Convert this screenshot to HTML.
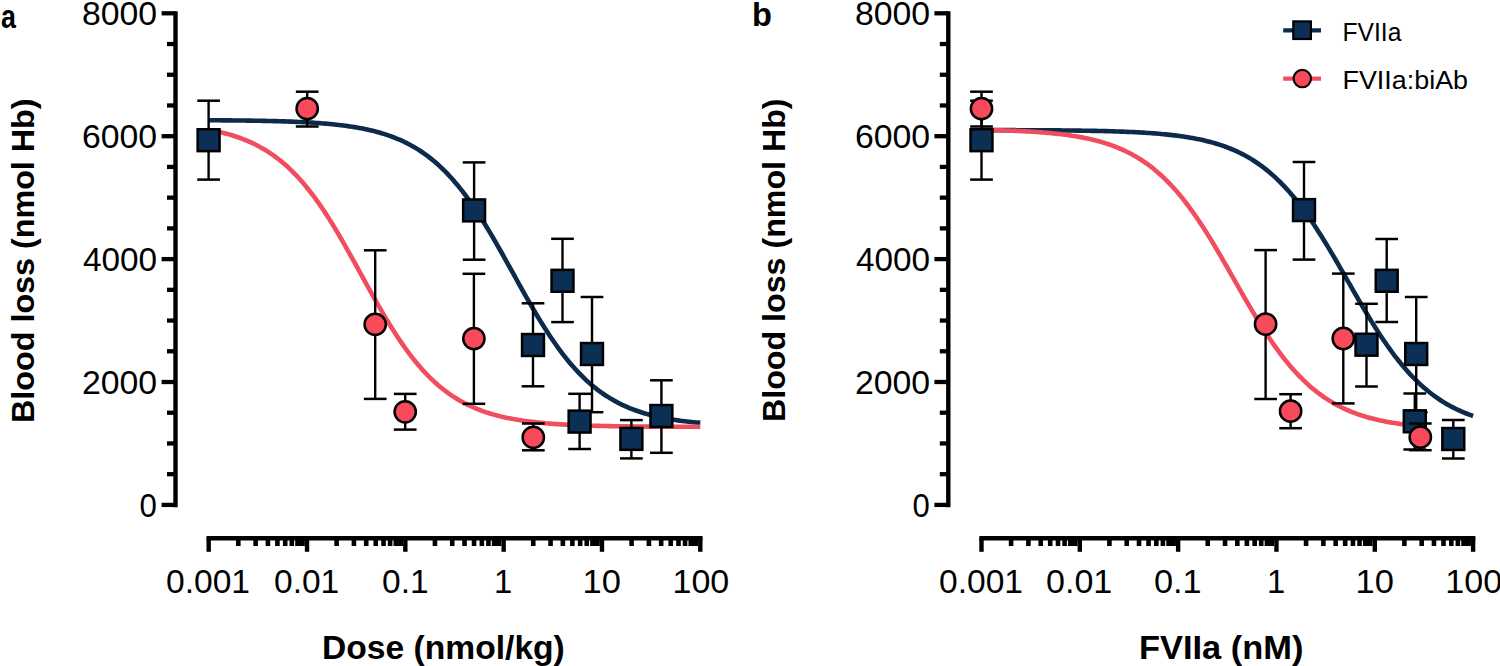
<!DOCTYPE html>
<html><head><meta charset="utf-8"><style>
html,body{margin:0;padding:0;background:#fff;width:1500px;height:666px;overflow:hidden}
svg{display:block}
text{font-family:"Liberation Sans",sans-serif;fill:#000}
</style></head><body>
<svg width="1500" height="666" viewBox="0 0 1500 666">
<rect width="1500" height="666" fill="#fff"/>
<line x1="175.50" y1="11.30" x2="175.50" y2="507.20" stroke="#000" stroke-width="4.4"/>
<line x1="161.60" y1="13.30" x2="175.50" y2="13.30" stroke="#000" stroke-width="4.3"/>
<line x1="167.00" y1="44.03" x2="175.50" y2="44.03" stroke="#000" stroke-width="4.3"/>
<line x1="167.00" y1="74.75" x2="175.50" y2="74.75" stroke="#000" stroke-width="4.3"/>
<line x1="167.00" y1="105.48" x2="175.50" y2="105.48" stroke="#000" stroke-width="4.3"/>
<line x1="161.60" y1="136.20" x2="175.50" y2="136.20" stroke="#000" stroke-width="4.3"/>
<line x1="167.00" y1="166.93" x2="175.50" y2="166.93" stroke="#000" stroke-width="4.3"/>
<line x1="167.00" y1="197.65" x2="175.50" y2="197.65" stroke="#000" stroke-width="4.3"/>
<line x1="167.00" y1="228.38" x2="175.50" y2="228.38" stroke="#000" stroke-width="4.3"/>
<line x1="161.60" y1="259.10" x2="175.50" y2="259.10" stroke="#000" stroke-width="4.3"/>
<line x1="167.00" y1="289.83" x2="175.50" y2="289.83" stroke="#000" stroke-width="4.3"/>
<line x1="167.00" y1="320.55" x2="175.50" y2="320.55" stroke="#000" stroke-width="4.3"/>
<line x1="167.00" y1="351.28" x2="175.50" y2="351.28" stroke="#000" stroke-width="4.3"/>
<line x1="161.60" y1="382.00" x2="175.50" y2="382.00" stroke="#000" stroke-width="4.3"/>
<line x1="167.00" y1="412.73" x2="175.50" y2="412.73" stroke="#000" stroke-width="4.3"/>
<line x1="167.00" y1="443.45" x2="175.50" y2="443.45" stroke="#000" stroke-width="4.3"/>
<line x1="167.00" y1="474.18" x2="175.50" y2="474.18" stroke="#000" stroke-width="4.3"/>
<line x1="161.60" y1="504.90" x2="175.50" y2="504.90" stroke="#000" stroke-width="4.3"/>
<line x1="206.50" y1="538.20" x2="702.60" y2="538.20" stroke="#000" stroke-width="4.6"/>
<line x1="208.70" y1="538.20" x2="208.70" y2="551.80" stroke="#000" stroke-width="4.4"/>
<line x1="238.30" y1="538.20" x2="238.30" y2="546.00" stroke="#000" stroke-width="4.6"/>
<line x1="255.61" y1="538.20" x2="255.61" y2="546.00" stroke="#000" stroke-width="4.6"/>
<line x1="267.89" y1="538.20" x2="267.89" y2="546.00" stroke="#000" stroke-width="4.6"/>
<line x1="277.42" y1="538.20" x2="277.42" y2="546.00" stroke="#000" stroke-width="4.6"/>
<line x1="285.21" y1="538.20" x2="285.21" y2="546.00" stroke="#000" stroke-width="4.6"/>
<line x1="291.79" y1="538.20" x2="291.79" y2="546.00" stroke="#000" stroke-width="4.6"/>
<rect x="295.19" y="538" width="9.63" height="8.0" fill="#000"/>
<line x1="307.02" y1="538.20" x2="307.02" y2="551.80" stroke="#000" stroke-width="4.4"/>
<line x1="336.62" y1="538.20" x2="336.62" y2="546.00" stroke="#000" stroke-width="4.6"/>
<line x1="353.93" y1="538.20" x2="353.93" y2="546.00" stroke="#000" stroke-width="4.6"/>
<line x1="366.21" y1="538.20" x2="366.21" y2="546.00" stroke="#000" stroke-width="4.6"/>
<line x1="375.74" y1="538.20" x2="375.74" y2="546.00" stroke="#000" stroke-width="4.6"/>
<line x1="383.53" y1="538.20" x2="383.53" y2="546.00" stroke="#000" stroke-width="4.6"/>
<line x1="390.11" y1="538.20" x2="390.11" y2="546.00" stroke="#000" stroke-width="4.6"/>
<rect x="393.51" y="538" width="9.63" height="8.0" fill="#000"/>
<line x1="405.34" y1="538.20" x2="405.34" y2="551.80" stroke="#000" stroke-width="4.4"/>
<line x1="434.94" y1="538.20" x2="434.94" y2="546.00" stroke="#000" stroke-width="4.6"/>
<line x1="452.25" y1="538.20" x2="452.25" y2="546.00" stroke="#000" stroke-width="4.6"/>
<line x1="464.53" y1="538.20" x2="464.53" y2="546.00" stroke="#000" stroke-width="4.6"/>
<line x1="474.06" y1="538.20" x2="474.06" y2="546.00" stroke="#000" stroke-width="4.6"/>
<line x1="481.85" y1="538.20" x2="481.85" y2="546.00" stroke="#000" stroke-width="4.6"/>
<line x1="488.43" y1="538.20" x2="488.43" y2="546.00" stroke="#000" stroke-width="4.6"/>
<rect x="491.83" y="538" width="9.63" height="8.0" fill="#000"/>
<line x1="503.66" y1="538.20" x2="503.66" y2="551.80" stroke="#000" stroke-width="4.4"/>
<line x1="533.26" y1="538.20" x2="533.26" y2="546.00" stroke="#000" stroke-width="4.6"/>
<line x1="550.57" y1="538.20" x2="550.57" y2="546.00" stroke="#000" stroke-width="4.6"/>
<line x1="562.85" y1="538.20" x2="562.85" y2="546.00" stroke="#000" stroke-width="4.6"/>
<line x1="572.38" y1="538.20" x2="572.38" y2="546.00" stroke="#000" stroke-width="4.6"/>
<line x1="580.17" y1="538.20" x2="580.17" y2="546.00" stroke="#000" stroke-width="4.6"/>
<line x1="586.75" y1="538.20" x2="586.75" y2="546.00" stroke="#000" stroke-width="4.6"/>
<rect x="590.15" y="538" width="9.63" height="8.0" fill="#000"/>
<line x1="601.98" y1="538.20" x2="601.98" y2="551.80" stroke="#000" stroke-width="4.4"/>
<line x1="631.58" y1="538.20" x2="631.58" y2="546.00" stroke="#000" stroke-width="4.6"/>
<line x1="648.89" y1="538.20" x2="648.89" y2="546.00" stroke="#000" stroke-width="4.6"/>
<line x1="661.17" y1="538.20" x2="661.17" y2="546.00" stroke="#000" stroke-width="4.6"/>
<line x1="670.70" y1="538.20" x2="670.70" y2="546.00" stroke="#000" stroke-width="4.6"/>
<line x1="678.49" y1="538.20" x2="678.49" y2="546.00" stroke="#000" stroke-width="4.6"/>
<line x1="685.07" y1="538.20" x2="685.07" y2="546.00" stroke="#000" stroke-width="4.6"/>
<rect x="688.47" y="538" width="9.63" height="8.0" fill="#000"/>
<line x1="700.30" y1="538.20" x2="700.30" y2="551.80" stroke="#000" stroke-width="4.4"/>
<line x1="948.30" y1="11.30" x2="948.30" y2="507.20" stroke="#000" stroke-width="4.4"/>
<line x1="934.40" y1="13.30" x2="948.30" y2="13.30" stroke="#000" stroke-width="4.3"/>
<line x1="939.80" y1="44.03" x2="948.30" y2="44.03" stroke="#000" stroke-width="4.3"/>
<line x1="939.80" y1="74.75" x2="948.30" y2="74.75" stroke="#000" stroke-width="4.3"/>
<line x1="939.80" y1="105.48" x2="948.30" y2="105.48" stroke="#000" stroke-width="4.3"/>
<line x1="934.40" y1="136.20" x2="948.30" y2="136.20" stroke="#000" stroke-width="4.3"/>
<line x1="939.80" y1="166.93" x2="948.30" y2="166.93" stroke="#000" stroke-width="4.3"/>
<line x1="939.80" y1="197.65" x2="948.30" y2="197.65" stroke="#000" stroke-width="4.3"/>
<line x1="939.80" y1="228.38" x2="948.30" y2="228.38" stroke="#000" stroke-width="4.3"/>
<line x1="934.40" y1="259.10" x2="948.30" y2="259.10" stroke="#000" stroke-width="4.3"/>
<line x1="939.80" y1="289.83" x2="948.30" y2="289.83" stroke="#000" stroke-width="4.3"/>
<line x1="939.80" y1="320.55" x2="948.30" y2="320.55" stroke="#000" stroke-width="4.3"/>
<line x1="939.80" y1="351.28" x2="948.30" y2="351.28" stroke="#000" stroke-width="4.3"/>
<line x1="934.40" y1="382.00" x2="948.30" y2="382.00" stroke="#000" stroke-width="4.3"/>
<line x1="939.80" y1="412.73" x2="948.30" y2="412.73" stroke="#000" stroke-width="4.3"/>
<line x1="939.80" y1="443.45" x2="948.30" y2="443.45" stroke="#000" stroke-width="4.3"/>
<line x1="939.80" y1="474.18" x2="948.30" y2="474.18" stroke="#000" stroke-width="4.3"/>
<line x1="934.40" y1="504.90" x2="948.30" y2="504.90" stroke="#000" stroke-width="4.3"/>
<line x1="979.30" y1="538.20" x2="1475.40" y2="538.20" stroke="#000" stroke-width="4.6"/>
<line x1="981.50" y1="538.20" x2="981.50" y2="551.80" stroke="#000" stroke-width="4.4"/>
<line x1="1011.10" y1="538.20" x2="1011.10" y2="546.00" stroke="#000" stroke-width="4.6"/>
<line x1="1028.41" y1="538.20" x2="1028.41" y2="546.00" stroke="#000" stroke-width="4.6"/>
<line x1="1040.69" y1="538.20" x2="1040.69" y2="546.00" stroke="#000" stroke-width="4.6"/>
<line x1="1050.22" y1="538.20" x2="1050.22" y2="546.00" stroke="#000" stroke-width="4.6"/>
<line x1="1058.01" y1="538.20" x2="1058.01" y2="546.00" stroke="#000" stroke-width="4.6"/>
<line x1="1064.59" y1="538.20" x2="1064.59" y2="546.00" stroke="#000" stroke-width="4.6"/>
<rect x="1067.99" y="538" width="9.63" height="8.0" fill="#000"/>
<line x1="1079.82" y1="538.20" x2="1079.82" y2="551.80" stroke="#000" stroke-width="4.4"/>
<line x1="1109.42" y1="538.20" x2="1109.42" y2="546.00" stroke="#000" stroke-width="4.6"/>
<line x1="1126.73" y1="538.20" x2="1126.73" y2="546.00" stroke="#000" stroke-width="4.6"/>
<line x1="1139.01" y1="538.20" x2="1139.01" y2="546.00" stroke="#000" stroke-width="4.6"/>
<line x1="1148.54" y1="538.20" x2="1148.54" y2="546.00" stroke="#000" stroke-width="4.6"/>
<line x1="1156.33" y1="538.20" x2="1156.33" y2="546.00" stroke="#000" stroke-width="4.6"/>
<line x1="1162.91" y1="538.20" x2="1162.91" y2="546.00" stroke="#000" stroke-width="4.6"/>
<rect x="1166.31" y="538" width="9.63" height="8.0" fill="#000"/>
<line x1="1178.14" y1="538.20" x2="1178.14" y2="551.80" stroke="#000" stroke-width="4.4"/>
<line x1="1207.74" y1="538.20" x2="1207.74" y2="546.00" stroke="#000" stroke-width="4.6"/>
<line x1="1225.05" y1="538.20" x2="1225.05" y2="546.00" stroke="#000" stroke-width="4.6"/>
<line x1="1237.33" y1="538.20" x2="1237.33" y2="546.00" stroke="#000" stroke-width="4.6"/>
<line x1="1246.86" y1="538.20" x2="1246.86" y2="546.00" stroke="#000" stroke-width="4.6"/>
<line x1="1254.65" y1="538.20" x2="1254.65" y2="546.00" stroke="#000" stroke-width="4.6"/>
<line x1="1261.23" y1="538.20" x2="1261.23" y2="546.00" stroke="#000" stroke-width="4.6"/>
<rect x="1264.63" y="538" width="9.63" height="8.0" fill="#000"/>
<line x1="1276.46" y1="538.20" x2="1276.46" y2="551.80" stroke="#000" stroke-width="4.4"/>
<line x1="1306.06" y1="538.20" x2="1306.06" y2="546.00" stroke="#000" stroke-width="4.6"/>
<line x1="1323.37" y1="538.20" x2="1323.37" y2="546.00" stroke="#000" stroke-width="4.6"/>
<line x1="1335.65" y1="538.20" x2="1335.65" y2="546.00" stroke="#000" stroke-width="4.6"/>
<line x1="1345.18" y1="538.20" x2="1345.18" y2="546.00" stroke="#000" stroke-width="4.6"/>
<line x1="1352.97" y1="538.20" x2="1352.97" y2="546.00" stroke="#000" stroke-width="4.6"/>
<line x1="1359.55" y1="538.20" x2="1359.55" y2="546.00" stroke="#000" stroke-width="4.6"/>
<rect x="1362.95" y="538" width="9.63" height="8.0" fill="#000"/>
<line x1="1374.78" y1="538.20" x2="1374.78" y2="551.80" stroke="#000" stroke-width="4.4"/>
<line x1="1404.38" y1="538.20" x2="1404.38" y2="546.00" stroke="#000" stroke-width="4.6"/>
<line x1="1421.69" y1="538.20" x2="1421.69" y2="546.00" stroke="#000" stroke-width="4.6"/>
<line x1="1433.97" y1="538.20" x2="1433.97" y2="546.00" stroke="#000" stroke-width="4.6"/>
<line x1="1443.50" y1="538.20" x2="1443.50" y2="546.00" stroke="#000" stroke-width="4.6"/>
<line x1="1451.29" y1="538.20" x2="1451.29" y2="546.00" stroke="#000" stroke-width="4.6"/>
<line x1="1457.87" y1="538.20" x2="1457.87" y2="546.00" stroke="#000" stroke-width="4.6"/>
<rect x="1461.27" y="538" width="9.63" height="8.0" fill="#000"/>
<line x1="1473.10" y1="538.20" x2="1473.10" y2="551.80" stroke="#000" stroke-width="4.4"/>
<path d="M208.70,120.24 L210.94,120.26 L213.19,120.27 L215.43,120.28 L217.68,120.30 L219.92,120.31 L222.17,120.33 L224.41,120.35 L226.66,120.37 L228.90,120.39 L231.15,120.41 L233.39,120.43 L235.64,120.45 L237.88,120.47 L240.13,120.50 L242.37,120.53 L244.62,120.55 L246.86,120.58 L249.11,120.62 L251.35,120.65 L253.59,120.68 L255.84,120.72 L258.08,120.76 L260.33,120.80 L262.57,120.84 L264.82,120.89 L267.06,120.93 L269.31,120.98 L271.55,121.04 L273.80,121.09 L276.04,121.15 L278.29,121.21 L280.53,121.28 L282.78,121.35 L285.02,121.42 L287.27,121.49 L289.51,121.58 L291.76,121.66 L294.00,121.75 L296.25,121.84 L298.49,121.94 L300.73,122.05 L302.98,122.16 L305.22,122.27 L307.47,122.39 L309.71,122.52 L311.96,122.66 L314.20,122.80 L316.45,122.95 L318.69,123.11 L320.94,123.28 L323.18,123.45 L325.43,123.64 L327.67,123.83 L329.92,124.04 L332.16,124.25 L334.41,124.48 L336.65,124.72 L338.90,124.97 L341.14,125.24 L343.38,125.51 L345.63,125.81 L347.87,126.12 L350.12,126.44 L352.36,126.78 L354.61,127.14 L356.85,127.52 L359.10,127.92 L361.34,128.34 L363.59,128.78 L365.83,129.24 L368.08,129.73 L370.32,130.24 L372.57,130.77 L374.81,131.34 L377.06,131.93 L379.30,132.55 L381.55,133.20 L383.79,133.89 L386.04,134.61 L388.28,135.36 L390.52,136.15 L392.77,136.98 L395.01,137.85 L397.26,138.76 L399.50,139.71 L401.75,140.71 L403.99,141.76 L406.24,142.85 L408.48,143.99 L410.73,145.19 L412.97,146.44 L415.22,147.75 L417.46,149.11 L419.71,150.54 L421.95,152.03 L424.20,153.58 L426.44,155.19 L428.69,156.87 L430.93,158.63 L433.17,160.45 L435.42,162.34 L437.66,164.31 L439.91,166.36 L442.15,168.48 L444.40,170.68 L446.64,172.95 L448.89,175.31 L451.13,177.75 L453.38,180.28 L455.62,182.88 L457.87,185.57 L460.11,188.34 L462.36,191.19 L464.60,194.12 L466.85,197.14 L469.09,200.23 L471.34,203.41 L473.58,206.66 L475.83,209.99 L478.07,213.39 L480.31,216.86 L482.56,220.40 L484.80,224.01 L487.05,227.68 L489.29,231.41 L491.54,235.19 L493.78,239.02 L496.03,242.89 L498.27,246.81 L500.52,250.76 L502.76,254.75 L505.01,258.76 L507.25,262.78 L509.50,266.83 L511.74,270.88 L513.99,274.94 L516.23,278.99 L518.48,283.04 L520.72,287.07 L522.96,291.08 L525.21,295.07 L527.45,299.03 L529.70,302.95 L531.94,306.84 L534.19,310.68 L536.43,314.47 L538.68,318.20 L540.92,321.88 L543.17,325.50 L545.41,329.05 L547.66,332.54 L549.90,335.95 L552.15,339.29 L554.39,342.56 L556.64,345.75 L558.88,348.85 L561.13,351.88 L563.37,354.83 L565.62,357.70 L567.86,360.48 L570.10,363.18 L572.35,365.80 L574.59,368.34 L576.84,370.79 L579.08,373.17 L581.33,375.46 L583.57,377.67 L585.82,379.81 L588.06,381.87 L590.31,383.85 L592.55,385.76 L594.80,387.59 L597.04,389.35 L599.29,391.05 L601.53,392.68 L603.78,394.24 L606.02,395.74 L608.27,397.17 L610.51,398.55 L612.75,399.86 L615.00,401.12 L617.24,402.33 L619.49,403.48 L621.73,404.59 L623.98,405.64 L626.22,406.65 L628.47,407.61 L630.71,408.53 L632.96,409.40 L635.20,410.24 L637.45,411.04 L639.69,411.80 L641.94,412.52 L644.18,413.21 L646.43,413.87 L648.67,414.50 L650.92,415.09 L653.16,415.66 L655.41,416.20 L657.65,416.72 L659.89,417.21 L662.14,417.67 L664.38,418.12 L666.63,418.54 L668.87,418.94 L671.12,419.32 L673.36,419.68 L675.61,420.03 L677.85,420.36 L680.10,420.67 L682.34,420.97 L684.59,421.25 L686.83,421.51 L689.08,421.77 L691.32,422.01 L693.57,422.24 L695.81,422.46 L698.06,422.66 L700.30,422.86" fill="none" stroke="#0c2a4c" stroke-width="4.6" stroke-linejoin="round"/>
<path d="M208.70,129.76 L210.94,130.18 L213.19,130.62 L215.43,131.08 L217.68,131.57 L219.92,132.08 L222.17,132.62 L224.41,133.18 L226.66,133.78 L228.90,134.40 L231.15,135.06 L233.39,135.75 L235.64,136.47 L237.88,137.23 L240.13,138.02 L242.37,138.86 L244.62,139.73 L246.86,140.65 L249.11,141.62 L251.35,142.63 L253.59,143.68 L255.84,144.79 L258.08,145.95 L260.33,147.16 L262.57,148.43 L264.82,149.75 L267.06,151.14 L269.31,152.58 L271.55,154.09 L273.80,155.66 L276.04,157.31 L278.29,159.02 L280.53,160.80 L282.78,162.65 L285.02,164.58 L287.27,166.58 L289.51,168.66 L291.76,170.82 L294.00,173.07 L296.25,175.39 L298.49,177.79 L300.73,180.28 L302.98,182.85 L305.22,185.50 L307.47,188.24 L309.71,191.07 L311.96,193.98 L314.20,196.97 L316.45,200.04 L318.69,203.20 L320.94,206.43 L323.18,209.75 L325.43,213.14 L327.67,216.60 L329.92,220.14 L332.16,223.74 L334.41,227.41 L336.65,231.14 L338.90,234.92 L341.14,238.76 L343.38,242.65 L345.63,246.58 L347.87,250.55 L350.12,254.56 L352.36,258.59 L354.61,262.65 L356.85,266.72 L359.10,270.80 L361.34,274.89 L363.59,278.97 L365.83,283.06 L368.08,287.12 L370.32,291.17 L372.57,295.20 L374.81,299.20 L377.06,303.16 L379.30,307.08 L381.55,310.96 L383.79,314.79 L386.04,318.56 L388.28,322.28 L390.52,325.94 L392.77,329.52 L395.01,333.04 L397.26,336.49 L399.50,339.87 L401.75,343.16 L403.99,346.38 L406.24,349.52 L408.48,352.58 L410.73,355.55 L412.97,358.44 L415.22,361.25 L417.46,363.97 L419.71,366.60 L421.95,369.16 L424.20,371.63 L426.44,374.01 L428.69,376.32 L430.93,378.54 L433.17,380.68 L435.42,382.75 L437.66,384.74 L439.91,386.65 L442.15,388.48 L444.40,390.25 L446.64,391.95 L448.89,393.57 L451.13,395.13 L453.38,396.63 L455.62,398.06 L457.87,399.43 L460.11,400.74 L462.36,402.00 L464.60,403.20 L466.85,404.34 L469.09,405.44 L471.34,406.49 L473.58,407.49 L475.83,408.44 L478.07,409.35 L480.31,410.22 L482.56,411.04 L484.80,411.83 L487.05,412.58 L489.29,413.30 L491.54,413.98 L493.78,414.63 L496.03,415.24 L498.27,415.83 L500.52,416.39 L502.76,416.92 L505.01,417.43 L507.25,417.91 L509.50,418.37 L511.74,418.80 L513.99,419.21 L516.23,419.61 L518.48,419.98 L520.72,420.33 L522.96,420.67 L525.21,420.99 L527.45,421.30 L529.70,421.58 L531.94,421.86 L534.19,422.12 L536.43,422.37 L538.68,422.60 L540.92,422.82 L543.17,423.03 L545.41,423.23 L547.66,423.42 L549.90,423.60 L552.15,423.78 L554.39,423.94 L556.64,424.09 L558.88,424.24 L561.13,424.38 L563.37,424.51 L565.62,424.63 L567.86,424.75 L570.10,424.87 L572.35,424.97 L574.59,425.07 L576.84,425.17 L579.08,425.26 L581.33,425.35 L583.57,425.43 L585.82,425.51 L588.06,425.58 L590.31,425.65 L592.55,425.71 L594.80,425.78 L597.04,425.84 L599.29,425.89 L601.53,425.95 L603.78,426.00 L606.02,426.05 L608.27,426.09 L610.51,426.13 L612.75,426.18 L615.00,426.21 L617.24,426.25 L619.49,426.29 L621.73,426.32 L623.98,426.35 L626.22,426.38 L628.47,426.41 L630.71,426.43 L632.96,426.46 L635.20,426.48 L637.45,426.51 L639.69,426.53 L641.94,426.55 L644.18,426.57 L646.43,426.59 L648.67,426.60 L650.92,426.62 L653.16,426.64 L655.41,426.65 L657.65,426.66 L659.89,426.68 L662.14,426.69 L664.38,426.70 L666.63,426.71 L668.87,426.72 L671.12,426.73 L673.36,426.74 L675.61,426.75 L677.85,426.76 L680.10,426.77 L682.34,426.78 L684.59,426.79 L686.83,426.79 L689.08,426.80 L691.32,426.81 L693.57,426.81 L695.81,426.82 L698.06,426.82 L700.30,426.83" fill="none" stroke="#f04e5f" stroke-width="4.6" stroke-linejoin="round"/>
<path d="M981.50,130.10 L983.74,130.10 L985.99,130.11 L988.23,130.11 L990.48,130.12 L992.72,130.12 L994.97,130.12 L997.21,130.13 L999.46,130.13 L1001.70,130.14 L1003.95,130.14 L1006.19,130.15 L1008.44,130.16 L1010.68,130.16 L1012.93,130.17 L1015.17,130.17 L1017.42,130.18 L1019.66,130.19 L1021.91,130.20 L1024.15,130.21 L1026.39,130.21 L1028.64,130.22 L1030.88,130.23 L1033.13,130.24 L1035.37,130.25 L1037.62,130.27 L1039.86,130.28 L1042.11,130.29 L1044.35,130.30 L1046.60,130.32 L1048.84,130.33 L1051.09,130.35 L1053.33,130.37 L1055.58,130.38 L1057.82,130.40 L1060.07,130.42 L1062.31,130.44 L1064.56,130.46 L1066.80,130.49 L1069.05,130.51 L1071.29,130.53 L1073.53,130.56 L1075.78,130.59 L1078.02,130.62 L1080.27,130.65 L1082.51,130.68 L1084.76,130.71 L1087.00,130.75 L1089.25,130.79 L1091.49,130.83 L1093.74,130.87 L1095.98,130.91 L1098.23,130.96 L1100.47,131.01 L1102.72,131.06 L1104.96,131.12 L1107.21,131.17 L1109.45,131.23 L1111.70,131.30 L1113.94,131.37 L1116.18,131.44 L1118.43,131.51 L1120.67,131.59 L1122.92,131.67 L1125.16,131.76 L1127.41,131.85 L1129.65,131.94 L1131.90,132.05 L1134.14,132.15 L1136.39,132.26 L1138.63,132.38 L1140.88,132.51 L1143.12,132.64 L1145.37,132.77 L1147.61,132.92 L1149.86,133.07 L1152.10,133.23 L1154.35,133.40 L1156.59,133.58 L1158.84,133.76 L1161.08,133.96 L1163.32,134.17 L1165.57,134.39 L1167.81,134.61 L1170.06,134.85 L1172.30,135.11 L1174.55,135.37 L1176.79,135.65 L1179.04,135.95 L1181.28,136.26 L1183.53,136.58 L1185.77,136.92 L1188.02,137.28 L1190.26,137.66 L1192.51,138.06 L1194.75,138.47 L1197.00,138.91 L1199.24,139.37 L1201.49,139.85 L1203.73,140.36 L1205.97,140.89 L1208.22,141.45 L1210.46,142.04 L1212.71,142.65 L1214.95,143.30 L1217.20,143.97 L1219.44,144.68 L1221.69,145.42 L1223.93,146.20 L1226.18,147.02 L1228.42,147.87 L1230.67,148.76 L1232.91,149.70 L1235.16,150.68 L1237.40,151.70 L1239.65,152.77 L1241.89,153.89 L1244.14,155.06 L1246.38,156.28 L1248.63,157.56 L1250.87,158.89 L1253.11,160.28 L1255.36,161.72 L1257.60,163.23 L1259.85,164.80 L1262.09,166.43 L1264.34,168.13 L1266.58,169.90 L1268.83,171.74 L1271.07,173.64 L1273.32,175.62 L1275.56,177.67 L1277.81,179.80 L1280.05,182.00 L1282.30,184.28 L1284.54,186.63 L1286.79,189.07 L1289.03,191.58 L1291.28,194.17 L1293.52,196.84 L1295.76,199.58 L1298.01,202.41 L1300.25,205.31 L1302.50,208.29 L1304.74,211.35 L1306.99,214.48 L1309.23,217.68 L1311.48,220.95 L1313.72,224.29 L1315.97,227.70 L1318.21,231.17 L1320.46,234.70 L1322.70,238.28 L1324.95,241.92 L1327.19,245.61 L1329.44,249.35 L1331.68,253.12 L1333.93,256.93 L1336.17,260.77 L1338.42,264.64 L1340.66,268.53 L1342.90,272.44 L1345.15,276.36 L1347.39,280.28 L1349.64,284.21 L1351.88,288.13 L1354.13,292.04 L1356.37,295.93 L1358.62,299.81 L1360.86,303.66 L1363.11,307.48 L1365.35,311.26 L1367.60,315.01 L1369.84,318.71 L1372.09,322.36 L1374.33,325.96 L1376.58,329.51 L1378.82,332.99 L1381.07,336.42 L1383.31,339.77 L1385.55,343.06 L1387.80,346.29 L1390.04,349.43 L1392.29,352.51 L1394.53,355.51 L1396.78,358.43 L1399.02,361.28 L1401.27,364.05 L1403.51,366.74 L1405.76,369.35 L1408.00,371.88 L1410.25,374.33 L1412.49,376.71 L1414.74,379.01 L1416.98,381.23 L1419.23,383.37 L1421.47,385.45 L1423.72,387.44 L1425.96,389.37 L1428.21,391.22 L1430.45,393.01 L1432.69,394.73 L1434.94,396.38 L1437.18,397.96 L1439.43,399.49 L1441.67,400.95 L1443.92,402.35 L1446.16,403.70 L1448.41,404.99 L1450.65,406.22 L1452.90,407.40 L1455.14,408.54 L1457.39,409.62 L1459.63,410.66 L1461.88,411.65 L1464.12,412.59 L1466.37,413.50 L1468.61,414.36 L1470.86,415.19 L1473.10,415.98" fill="none" stroke="#0c2a4c" stroke-width="4.6" stroke-linejoin="round"/>
<path d="M981.50,129.88 L983.50,129.92 L985.51,129.96 L987.51,130.00 L989.52,130.05 L991.52,130.09 L993.52,130.14 L995.53,130.20 L997.53,130.25 L999.54,130.31 L1001.54,130.37 L1003.55,130.43 L1005.55,130.49 L1007.55,130.56 L1009.56,130.63 L1011.56,130.71 L1013.57,130.79 L1015.57,130.87 L1017.57,130.96 L1019.58,131.05 L1021.58,131.14 L1023.59,131.24 L1025.59,131.34 L1027.59,131.45 L1029.60,131.57 L1031.60,131.69 L1033.61,131.81 L1035.61,131.94 L1037.62,132.08 L1039.62,132.22 L1041.62,132.37 L1043.63,132.53 L1045.63,132.69 L1047.64,132.86 L1049.64,133.04 L1051.64,133.23 L1053.65,133.43 L1055.65,133.64 L1057.66,133.85 L1059.66,134.08 L1061.66,134.32 L1063.67,134.56 L1065.67,134.82 L1067.68,135.09 L1069.68,135.37 L1071.68,135.67 L1073.69,135.98 L1075.69,136.30 L1077.70,136.64 L1079.70,137.00 L1081.71,137.37 L1083.71,137.75 L1085.71,138.16 L1087.72,138.58 L1089.72,139.02 L1091.73,139.48 L1093.73,139.96 L1095.73,140.47 L1097.74,140.99 L1099.74,141.54 L1101.75,142.11 L1103.75,142.71 L1105.75,143.33 L1107.76,143.98 L1109.76,144.66 L1111.77,145.37 L1113.77,146.11 L1115.78,146.88 L1117.78,147.68 L1119.78,148.51 L1121.79,149.38 L1123.79,150.29 L1125.80,151.23 L1127.80,152.21 L1129.80,153.23 L1131.81,154.29 L1133.81,155.40 L1135.82,156.55 L1137.82,157.74 L1139.82,158.98 L1141.83,160.26 L1143.83,161.60 L1145.84,162.98 L1147.84,164.41 L1149.85,165.90 L1151.85,167.44 L1153.85,169.04 L1155.86,170.69 L1157.86,172.40 L1159.87,174.17 L1161.87,175.99 L1163.87,177.88 L1165.88,179.82 L1167.88,181.83 L1169.89,183.90 L1171.89,186.03 L1173.89,188.22 L1175.90,190.48 L1177.90,192.80 L1179.91,195.18 L1181.91,197.63 L1183.92,200.14 L1185.92,202.72 L1187.92,205.35 L1189.93,208.05 L1191.93,210.81 L1193.94,213.63 L1195.94,216.50 L1197.94,219.44 L1199.95,222.42 L1201.95,225.47 L1203.96,228.56 L1205.96,231.70 L1207.96,234.89 L1209.97,238.13 L1211.97,241.41 L1213.98,244.72 L1215.98,248.07 L1217.98,251.46 L1219.99,254.87 L1221.99,258.31 L1224.00,261.78 L1226.00,265.26 L1228.01,268.76 L1230.01,272.27 L1232.01,275.79 L1234.02,279.31 L1236.02,282.83 L1238.03,286.35 L1240.03,289.86 L1242.03,293.36 L1244.04,296.85 L1246.04,300.31 L1248.05,303.76 L1250.05,307.18 L1252.05,310.57 L1254.06,313.92 L1256.06,317.24 L1258.07,320.52 L1260.07,323.76 L1262.08,326.96 L1264.08,330.11 L1266.08,333.21 L1268.09,336.26 L1270.09,339.25 L1272.10,342.19 L1274.10,345.08 L1276.10,347.90 L1278.11,350.67 L1280.11,353.37 L1282.12,356.01 L1284.12,358.60 L1286.12,361.11 L1288.13,363.57 L1290.13,365.96 L1292.14,368.29 L1294.14,370.56 L1296.15,372.76 L1298.15,374.90 L1300.15,376.97 L1302.16,378.99 L1304.16,380.94 L1306.17,382.83 L1308.17,384.67 L1310.17,386.44 L1312.18,388.15 L1314.18,389.81 L1316.19,391.41 L1318.19,392.96 L1320.19,394.46 L1322.20,395.90 L1324.20,397.29 L1326.21,398.63 L1328.21,399.92 L1330.22,401.16 L1332.22,402.36 L1334.22,403.51 L1336.23,404.62 L1338.23,405.69 L1340.24,406.72 L1342.24,407.70 L1344.24,408.65 L1346.25,409.56 L1348.25,410.43 L1350.26,411.27 L1352.26,412.08 L1354.26,412.85 L1356.27,413.59 L1358.27,414.30 L1360.28,414.98 L1362.28,415.64 L1364.28,416.26 L1366.29,416.87 L1368.29,417.44 L1370.30,417.99 L1372.30,418.52 L1374.31,419.03 L1376.31,419.51 L1378.31,419.97 L1380.32,420.42 L1382.32,420.84 L1384.33,421.25 L1386.33,421.64 L1388.33,422.01 L1390.34,422.36 L1392.34,422.71 L1394.35,423.03 L1396.35,423.34 L1398.35,423.64 L1400.36,423.92 L1402.36,424.20 L1404.37,424.46 L1406.37,424.71 L1408.38,424.94 L1410.38,425.17 L1412.38,425.39 L1414.39,425.59 L1416.39,425.79 L1418.40,425.98 L1420.40,426.16" fill="none" stroke="#f04e5f" stroke-width="4.6" stroke-linejoin="round"/>
<line x1="208.60" y1="140.20" x2="208.60" y2="100.70" stroke="#000" stroke-width="2.4"/>
<line x1="197.25" y1="100.70" x2="219.95" y2="100.70" stroke="#000" stroke-width="2.5"/>
<line x1="208.60" y1="140.20" x2="208.60" y2="179.60" stroke="#000" stroke-width="2.4"/>
<line x1="197.25" y1="179.60" x2="219.95" y2="179.60" stroke="#000" stroke-width="2.5"/>
<line x1="474.10" y1="210.40" x2="474.10" y2="162.40" stroke="#000" stroke-width="2.4"/>
<line x1="462.75" y1="162.40" x2="485.45" y2="162.40" stroke="#000" stroke-width="2.5"/>
<line x1="474.10" y1="210.40" x2="474.10" y2="259.70" stroke="#000" stroke-width="2.4"/>
<line x1="462.75" y1="259.70" x2="485.45" y2="259.70" stroke="#000" stroke-width="2.5"/>
<line x1="533.00" y1="345.00" x2="533.00" y2="303.30" stroke="#000" stroke-width="2.4"/>
<line x1="521.65" y1="303.30" x2="544.35" y2="303.30" stroke="#000" stroke-width="2.5"/>
<line x1="533.00" y1="345.00" x2="533.00" y2="386.30" stroke="#000" stroke-width="2.4"/>
<line x1="521.65" y1="386.30" x2="544.35" y2="386.30" stroke="#000" stroke-width="2.5"/>
<line x1="562.50" y1="280.80" x2="562.50" y2="238.80" stroke="#000" stroke-width="2.4"/>
<line x1="551.15" y1="238.80" x2="573.85" y2="238.80" stroke="#000" stroke-width="2.5"/>
<line x1="562.50" y1="280.80" x2="562.50" y2="322.10" stroke="#000" stroke-width="2.4"/>
<line x1="551.15" y1="322.10" x2="573.85" y2="322.10" stroke="#000" stroke-width="2.5"/>
<line x1="579.60" y1="421.60" x2="579.60" y2="393.80" stroke="#000" stroke-width="2.4"/>
<line x1="568.25" y1="393.80" x2="590.95" y2="393.80" stroke="#000" stroke-width="2.5"/>
<line x1="579.60" y1="421.60" x2="579.60" y2="449.00" stroke="#000" stroke-width="2.4"/>
<line x1="568.25" y1="449.00" x2="590.95" y2="449.00" stroke="#000" stroke-width="2.5"/>
<line x1="592.00" y1="354.00" x2="592.00" y2="297.00" stroke="#000" stroke-width="2.4"/>
<line x1="580.65" y1="297.00" x2="603.35" y2="297.00" stroke="#000" stroke-width="2.5"/>
<line x1="592.00" y1="354.00" x2="592.00" y2="412.20" stroke="#000" stroke-width="2.4"/>
<line x1="580.65" y1="412.20" x2="603.35" y2="412.20" stroke="#000" stroke-width="2.5"/>
<line x1="631.40" y1="438.90" x2="631.40" y2="420.10" stroke="#000" stroke-width="2.4"/>
<line x1="620.05" y1="420.10" x2="642.75" y2="420.10" stroke="#000" stroke-width="2.5"/>
<line x1="631.40" y1="438.90" x2="631.40" y2="458.40" stroke="#000" stroke-width="2.4"/>
<line x1="620.05" y1="458.40" x2="642.75" y2="458.40" stroke="#000" stroke-width="2.5"/>
<line x1="661.40" y1="416.00" x2="661.40" y2="380.30" stroke="#000" stroke-width="2.4"/>
<line x1="650.05" y1="380.30" x2="672.75" y2="380.30" stroke="#000" stroke-width="2.5"/>
<line x1="661.40" y1="416.00" x2="661.40" y2="452.80" stroke="#000" stroke-width="2.4"/>
<line x1="650.05" y1="452.80" x2="672.75" y2="452.80" stroke="#000" stroke-width="2.5"/>
<rect x="197.65" y="129.25" width="21.9" height="21.9" fill="#0c2f55" stroke="#000" stroke-width="2.5"/>
<rect x="463.15" y="199.45" width="21.9" height="21.9" fill="#0c2f55" stroke="#000" stroke-width="2.5"/>
<rect x="522.05" y="334.05" width="21.9" height="21.9" fill="#0c2f55" stroke="#000" stroke-width="2.5"/>
<rect x="551.55" y="269.85" width="21.9" height="21.9" fill="#0c2f55" stroke="#000" stroke-width="2.5"/>
<rect x="568.65" y="410.65" width="21.9" height="21.9" fill="#0c2f55" stroke="#000" stroke-width="2.5"/>
<rect x="581.05" y="343.05" width="21.9" height="21.9" fill="#0c2f55" stroke="#000" stroke-width="2.5"/>
<rect x="620.45" y="427.95" width="21.9" height="21.9" fill="#0c2f55" stroke="#000" stroke-width="2.5"/>
<rect x="650.45" y="405.05" width="21.9" height="21.9" fill="#0c2f55" stroke="#000" stroke-width="2.5"/>
<line x1="307.20" y1="108.70" x2="307.20" y2="91.70" stroke="#000" stroke-width="2.4"/>
<line x1="295.85" y1="91.70" x2="318.55" y2="91.70" stroke="#000" stroke-width="2.5"/>
<line x1="307.20" y1="108.70" x2="307.20" y2="126.50" stroke="#000" stroke-width="2.4"/>
<line x1="295.85" y1="126.50" x2="318.55" y2="126.50" stroke="#000" stroke-width="2.5"/>
<line x1="375.20" y1="324.30" x2="375.20" y2="250.30" stroke="#000" stroke-width="2.4"/>
<line x1="363.85" y1="250.30" x2="386.55" y2="250.30" stroke="#000" stroke-width="2.5"/>
<line x1="375.20" y1="324.30" x2="375.20" y2="398.90" stroke="#000" stroke-width="2.4"/>
<line x1="363.85" y1="398.90" x2="386.55" y2="398.90" stroke="#000" stroke-width="2.5"/>
<line x1="405.20" y1="411.80" x2="405.20" y2="393.90" stroke="#000" stroke-width="2.4"/>
<line x1="393.85" y1="393.90" x2="416.55" y2="393.90" stroke="#000" stroke-width="2.5"/>
<line x1="405.20" y1="411.80" x2="405.20" y2="429.60" stroke="#000" stroke-width="2.4"/>
<line x1="393.85" y1="429.60" x2="416.55" y2="429.60" stroke="#000" stroke-width="2.5"/>
<line x1="473.90" y1="338.60" x2="473.90" y2="273.80" stroke="#000" stroke-width="2.4"/>
<line x1="462.55" y1="273.80" x2="485.25" y2="273.80" stroke="#000" stroke-width="2.5"/>
<line x1="473.90" y1="338.60" x2="473.90" y2="403.80" stroke="#000" stroke-width="2.4"/>
<line x1="462.55" y1="403.80" x2="485.25" y2="403.80" stroke="#000" stroke-width="2.5"/>
<line x1="533.30" y1="437.40" x2="533.30" y2="423.50" stroke="#000" stroke-width="2.4"/>
<line x1="521.95" y1="423.50" x2="544.65" y2="423.50" stroke="#000" stroke-width="2.5"/>
<line x1="533.30" y1="437.40" x2="533.30" y2="450.30" stroke="#000" stroke-width="2.4"/>
<line x1="521.95" y1="450.30" x2="544.65" y2="450.30" stroke="#000" stroke-width="2.5"/>
<circle cx="307.20" cy="108.70" r="10.65" fill="#f84a5b" stroke="#000" stroke-width="2.5"/>
<circle cx="375.20" cy="324.30" r="10.65" fill="#f84a5b" stroke="#000" stroke-width="2.5"/>
<circle cx="405.20" cy="411.80" r="10.65" fill="#f84a5b" stroke="#000" stroke-width="2.5"/>
<circle cx="473.90" cy="338.60" r="10.65" fill="#f84a5b" stroke="#000" stroke-width="2.5"/>
<circle cx="533.30" cy="437.40" r="10.65" fill="#f84a5b" stroke="#000" stroke-width="2.5"/>
<line x1="981.50" y1="140.20" x2="981.50" y2="100.70" stroke="#000" stroke-width="2.4"/>
<line x1="970.15" y1="100.70" x2="992.85" y2="100.70" stroke="#000" stroke-width="2.5"/>
<line x1="981.50" y1="140.20" x2="981.50" y2="179.60" stroke="#000" stroke-width="2.4"/>
<line x1="970.15" y1="179.60" x2="992.85" y2="179.60" stroke="#000" stroke-width="2.5"/>
<line x1="1304.00" y1="210.10" x2="1304.00" y2="162.00" stroke="#000" stroke-width="2.4"/>
<line x1="1292.65" y1="162.00" x2="1315.35" y2="162.00" stroke="#000" stroke-width="2.5"/>
<line x1="1304.00" y1="210.10" x2="1304.00" y2="259.60" stroke="#000" stroke-width="2.4"/>
<line x1="1292.65" y1="259.60" x2="1315.35" y2="259.60" stroke="#000" stroke-width="2.5"/>
<line x1="1366.50" y1="344.70" x2="1366.50" y2="303.80" stroke="#000" stroke-width="2.4"/>
<line x1="1355.15" y1="303.80" x2="1377.85" y2="303.80" stroke="#000" stroke-width="2.5"/>
<line x1="1366.50" y1="344.70" x2="1366.50" y2="386.50" stroke="#000" stroke-width="2.4"/>
<line x1="1355.15" y1="386.50" x2="1377.85" y2="386.50" stroke="#000" stroke-width="2.5"/>
<line x1="1386.70" y1="280.80" x2="1386.70" y2="239.00" stroke="#000" stroke-width="2.4"/>
<line x1="1375.35" y1="239.00" x2="1398.05" y2="239.00" stroke="#000" stroke-width="2.5"/>
<line x1="1386.70" y1="280.80" x2="1386.70" y2="322.00" stroke="#000" stroke-width="2.4"/>
<line x1="1375.35" y1="322.00" x2="1398.05" y2="322.00" stroke="#000" stroke-width="2.5"/>
<line x1="1414.80" y1="421.30" x2="1414.80" y2="393.50" stroke="#000" stroke-width="2.4"/>
<line x1="1403.45" y1="393.50" x2="1426.15" y2="393.50" stroke="#000" stroke-width="2.5"/>
<line x1="1414.80" y1="421.30" x2="1414.80" y2="449.50" stroke="#000" stroke-width="2.4"/>
<line x1="1403.45" y1="449.50" x2="1426.15" y2="449.50" stroke="#000" stroke-width="2.5"/>
<line x1="1416.20" y1="354.00" x2="1416.20" y2="297.00" stroke="#000" stroke-width="2.4"/>
<line x1="1404.85" y1="297.00" x2="1427.55" y2="297.00" stroke="#000" stroke-width="2.5"/>
<line x1="1416.20" y1="354.00" x2="1416.20" y2="412.20" stroke="#000" stroke-width="2.4"/>
<line x1="1404.85" y1="412.20" x2="1427.55" y2="412.20" stroke="#000" stroke-width="2.5"/>
<line x1="1453.30" y1="439.00" x2="1453.30" y2="420.00" stroke="#000" stroke-width="2.4"/>
<line x1="1441.95" y1="420.00" x2="1464.65" y2="420.00" stroke="#000" stroke-width="2.5"/>
<line x1="1453.30" y1="439.00" x2="1453.30" y2="458.50" stroke="#000" stroke-width="2.4"/>
<line x1="1441.95" y1="458.50" x2="1464.65" y2="458.50" stroke="#000" stroke-width="2.5"/>
<rect x="970.55" y="129.25" width="21.9" height="21.9" fill="#0c2f55" stroke="#000" stroke-width="2.5"/>
<rect x="1293.05" y="199.15" width="21.9" height="21.9" fill="#0c2f55" stroke="#000" stroke-width="2.5"/>
<rect x="1355.55" y="333.75" width="21.9" height="21.9" fill="#0c2f55" stroke="#000" stroke-width="2.5"/>
<rect x="1375.75" y="269.85" width="21.9" height="21.9" fill="#0c2f55" stroke="#000" stroke-width="2.5"/>
<rect x="1403.85" y="410.35" width="21.9" height="21.9" fill="#0c2f55" stroke="#000" stroke-width="2.5"/>
<rect x="1405.25" y="343.05" width="21.9" height="21.9" fill="#0c2f55" stroke="#000" stroke-width="2.5"/>
<rect x="1442.35" y="428.05" width="21.9" height="21.9" fill="#0c2f55" stroke="#000" stroke-width="2.5"/>
<line x1="981.50" y1="108.70" x2="981.50" y2="91.70" stroke="#000" stroke-width="2.4"/>
<line x1="970.15" y1="91.70" x2="992.85" y2="91.70" stroke="#000" stroke-width="2.5"/>
<line x1="981.50" y1="108.70" x2="981.50" y2="126.50" stroke="#000" stroke-width="2.4"/>
<line x1="970.15" y1="126.50" x2="992.85" y2="126.50" stroke="#000" stroke-width="2.5"/>
<line x1="1265.60" y1="324.20" x2="1265.60" y2="250.10" stroke="#000" stroke-width="2.4"/>
<line x1="1254.25" y1="250.10" x2="1276.95" y2="250.10" stroke="#000" stroke-width="2.5"/>
<line x1="1265.60" y1="324.20" x2="1265.60" y2="399.00" stroke="#000" stroke-width="2.4"/>
<line x1="1254.25" y1="399.00" x2="1276.95" y2="399.00" stroke="#000" stroke-width="2.5"/>
<line x1="1290.60" y1="411.20" x2="1290.60" y2="394.20" stroke="#000" stroke-width="2.4"/>
<line x1="1279.25" y1="394.20" x2="1301.95" y2="394.20" stroke="#000" stroke-width="2.5"/>
<line x1="1290.60" y1="411.20" x2="1290.60" y2="428.20" stroke="#000" stroke-width="2.4"/>
<line x1="1279.25" y1="428.20" x2="1301.95" y2="428.20" stroke="#000" stroke-width="2.5"/>
<line x1="1343.30" y1="338.50" x2="1343.30" y2="273.60" stroke="#000" stroke-width="2.4"/>
<line x1="1331.95" y1="273.60" x2="1354.65" y2="273.60" stroke="#000" stroke-width="2.5"/>
<line x1="1343.30" y1="338.50" x2="1343.30" y2="403.40" stroke="#000" stroke-width="2.4"/>
<line x1="1331.95" y1="403.40" x2="1354.65" y2="403.40" stroke="#000" stroke-width="2.5"/>
<line x1="1420.30" y1="437.20" x2="1420.30" y2="423.50" stroke="#000" stroke-width="2.4"/>
<line x1="1408.95" y1="423.50" x2="1431.65" y2="423.50" stroke="#000" stroke-width="2.5"/>
<line x1="1420.30" y1="437.20" x2="1420.30" y2="450.20" stroke="#000" stroke-width="2.4"/>
<line x1="1408.95" y1="450.20" x2="1431.65" y2="450.20" stroke="#000" stroke-width="2.5"/>
<circle cx="981.50" cy="108.70" r="10.65" fill="#f84a5b" stroke="#000" stroke-width="2.5"/>
<circle cx="1265.60" cy="324.20" r="10.65" fill="#f84a5b" stroke="#000" stroke-width="2.5"/>
<circle cx="1290.60" cy="411.20" r="10.65" fill="#f84a5b" stroke="#000" stroke-width="2.5"/>
<circle cx="1343.30" cy="338.50" r="10.65" fill="#f84a5b" stroke="#000" stroke-width="2.5"/>
<circle cx="1420.30" cy="437.20" r="10.65" fill="#f84a5b" stroke="#000" stroke-width="2.5"/>
<line x1="1283.20" y1="30.30" x2="1321.00" y2="30.30" stroke="#0c2a4c" stroke-width="4.3"/>
<rect x="1293.3" y="21.4" width="17.6" height="17.6" fill="#0c2f55" stroke="#000" stroke-width="2.2"/>
<line x1="1283.20" y1="78.60" x2="1321.00" y2="78.60" stroke="#f04e5f" stroke-width="4.3"/>
<circle cx="1302.3" cy="78.6" r="8.7" fill="#f84a5b" stroke="#000" stroke-width="2.1"/>
<text x="82.00" y="25.42" font-size="33.5" textLength="75.15" lengthAdjust="spacingAndGlyphs">8000</text>
<text x="82.00" y="148.34" font-size="33.5" textLength="75.15" lengthAdjust="spacingAndGlyphs">6000</text>
<text x="83.00" y="271.26" font-size="33.5" textLength="74.12" lengthAdjust="spacingAndGlyphs">4000</text>
<text x="82.00" y="394.18" font-size="33.5" textLength="75.15" lengthAdjust="spacingAndGlyphs">2000</text>
<text x="139.50" y="517.10" font-size="33.5" textLength="17.34" lengthAdjust="spacingAndGlyphs">0</text>
<text x="166.00" y="593.00" font-size="33.5" textLength="84.06" lengthAdjust="spacingAndGlyphs">0.001</text>
<text x="274.00" y="593.00" font-size="33.5" textLength="65.20" lengthAdjust="spacingAndGlyphs">0.01</text>
<text x="382.00" y="593.00" font-size="33.5" textLength="46.57" lengthAdjust="spacingAndGlyphs">0.1</text>
<text x="494.00" y="593.00" font-size="33.5" textLength="18.22" lengthAdjust="spacingAndGlyphs">1</text>
<text x="582.50" y="593.00" font-size="33.5" textLength="38.37" lengthAdjust="spacingAndGlyphs">10</text>
<text x="672.50" y="593.00" font-size="33.5" textLength="56.76" lengthAdjust="spacingAndGlyphs">100</text>
<text x="855.00" y="25.42" font-size="33.5" textLength="75.15" lengthAdjust="spacingAndGlyphs">8000</text>
<text x="855.00" y="148.34" font-size="33.5" textLength="75.15" lengthAdjust="spacingAndGlyphs">6000</text>
<text x="856.00" y="271.26" font-size="33.5" textLength="74.12" lengthAdjust="spacingAndGlyphs">4000</text>
<text x="855.00" y="394.18" font-size="33.5" textLength="75.15" lengthAdjust="spacingAndGlyphs">2000</text>
<text x="912.50" y="517.10" font-size="33.5" textLength="17.27" lengthAdjust="spacingAndGlyphs">0</text>
<text x="939.00" y="593.00" font-size="33.5" textLength="84.04" lengthAdjust="spacingAndGlyphs">0.001</text>
<text x="1046.00" y="593.00" font-size="33.5" textLength="66.25" lengthAdjust="spacingAndGlyphs">0.01</text>
<text x="1154.00" y="593.00" font-size="33.5" textLength="47.65" lengthAdjust="spacingAndGlyphs">0.1</text>
<text x="1267.00" y="593.00" font-size="33.5" textLength="18.22" lengthAdjust="spacingAndGlyphs">1</text>
<text x="1355.50" y="593.00" font-size="33.5" textLength="38.37" lengthAdjust="spacingAndGlyphs">10</text>
<text x="1445.30" y="593.00" font-size="33.5" textLength="56.76" lengthAdjust="spacingAndGlyphs">100</text>
<text x="322.00" y="659.00" font-size="33" font-weight="bold" textLength="242.83" lengthAdjust="spacingAndGlyphs">Dose (nmol/kg)</text>
<text x="1139.00" y="659.00" font-size="33" font-weight="bold" textLength="164.41" lengthAdjust="spacingAndGlyphs">FVIIa (nM)</text>
<text transform="translate(33.50,423.00) rotate(-90)" x="0" y="0" font-size="32" font-weight="bold" textLength="324.59" lengthAdjust="spacingAndGlyphs">Blood loss (nmol Hb)</text>
<text transform="translate(784.70,422.00) rotate(-90)" x="0" y="0" font-size="32" font-weight="bold" textLength="323.57" lengthAdjust="spacingAndGlyphs">Blood loss (nmol Hb)</text>
<text x="1.00" y="27.90" font-size="34" font-weight="bold" textLength="14.93" lengthAdjust="spacingAndGlyphs">a</text>
<text x="752.00" y="25.80" font-size="33" font-weight="bold" textLength="19.94" lengthAdjust="spacingAndGlyphs">b</text>
<text x="1342.50" y="41.10" font-size="25.5" textLength="58.88" lengthAdjust="spacingAndGlyphs">FVIIa</text>
<text x="1342.50" y="88.80" font-size="25.5" textLength="125.58" lengthAdjust="spacingAndGlyphs">FVIIa:biAb</text>
</svg>
</body></html>
